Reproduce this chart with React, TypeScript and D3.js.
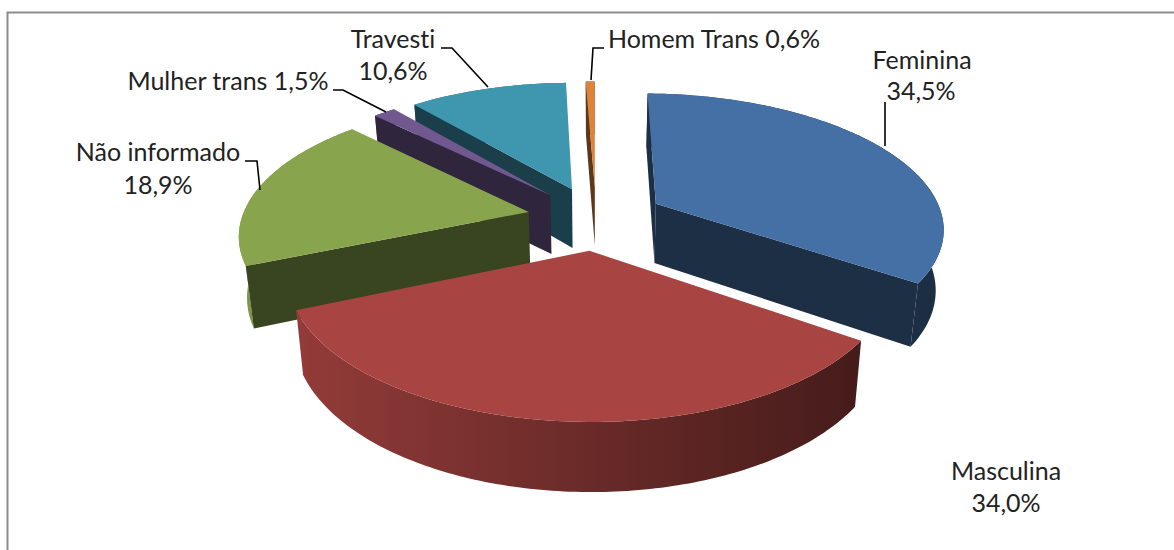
import { pie, line as d3line, range, rgb, scaleLinear } from "d3";

const categories = ["Feminina", "Masculina", "Não informado", "Mulher trans", "Travesti", "Homem Trans"];
const shares = [34.5, 34.0, 18.9, 1.5, 10.6, 0.6];
const topColors = ["#4470a5", "#a84441", "#88a54d", "#71588f", "#3f96af", "#db843d"];

// label layout, one entry per category
const labelLines = [
  [["Feminina", 922, 69], ["34,5%", 921, 100]],
  [["Masculina", 1006, 480], ["34,0%", 1006, 512]],
  [["Não informado", 158, 161], ["18,9%", 158, 194]],
  [["Mulher trans 1,5%", 228, 90]],
  [["Travesti", 393, 48], ["10,6%", 393, 80]],
  [["Homem Trans 0,6%", 714, 48]],
] as [string, number, number][][];
const leaders = [
  "M885,102V146",
  "",
  "M245,161H257L260,190",
  "M333,90H343L386,112",
  "M441,48H452L488,87",
  "M604,48H593L591,80",
];

const W = 1174;
const H = 550;
const cx = 596;
const cy = 218;
const perspective = 0.16;
const skew = 3;
const explode = 0.24;
const depth = 60;
const bottomShrink = 0.977;
const wallShade = 0.42;

const xScale = scaleLinear().domain([-1, 1]).range([cx - 287, cx + 287]);
const yScale = scaleLinear().domain([-1, 1]).range([cy - 132, cy + 132]);
const shade = scaleLinear().domain([240, 600, 860]).range([0.92, 0.62, 0.41]).clamp(true);

type Pt = [number, number];

// world coords: X right, Y towards the viewer, circle radius 1
function project(X: number, Y: number, low = false): Pt {
  const k = 1 / (1 - perspective * Y);
  const x = cx + (xScale(X) - cx) * k + skew * Y;
  const y = cy + (yScale(Y) - cy) * k;
  if (!low) return [x, y];
  return [cx + (x - cx) * bottomShrink, cy + (y - cy) * bottomShrink + depth * k];
}

function dim(color: string, f: number) {
  const c = rgb(color);
  return rgb(c.r * f, c.g * f, c.b * f).formatHex();
}

const line = d3line<Pt>();
const firstAngle = 0.012;
const arcs = pie<number>().sort(null).startAngle(firstAngle).endAngle(firstAngle + Math.PI * 2)(shares);

function sliceGeometry(index: number) {
  const a0 = arcs[index].startAngle;
  const a1 = arcs[index].endAngle;
  const mid = (a0 + a1) / 2;
  const ox = Math.sin(mid) * explode;
  const oy = -Math.cos(mid) * explode;
  const rim = (a: number, low = false) => project(ox + Math.sin(a), oy - Math.cos(a), low);
  const sweep = (from: number, to: number, low = false) => {
    const n = Math.max(2, Math.ceil((to - from) * 60));
    return range(n + 1).map((i) => rim(from + ((to - from) * i) / n, low));
  };
  const apex = project(ox, oy);
  const apexLow = project(ox, oy, true);
  const midRim = rim(mid);

  const top = line([apex, ...sweep(a0, a1)]) + "Z";

  // a radial wall shows when its hanging side points away from the top face
  const radial = (a: number) => {
    const b = rim(a);
    const ex = b[0] - apex[0];
    const ey = b[1] - apex[1];
    const side = ex * (midRim[1] - apex[1]) - ey * (midRim[0] - apex[0]);
    if (side * ex >= 0) return null;
    return line([apex, b, rim(a, true), apexLow]) + "Z";
  };

  const outer = line([...sweep(a0, a1), ...sweep(a0, a1, true).reverse()]) + "Z";

  return { top, outer, walls: [radial(a0), radial(a1)] };
}

const slices = categories.map((name, i) => ({ name, i, color: topColors[i], ...sliceGeometry(i) }));
const drawOrder = [5, 4, 3, 2, 0, 1];
const gradientStops = [240, 420, 600, 730, 860];

export default function App() {
  return (
    <svg
      width={W}
      height={H}
      viewBox={`0 0 ${W} ${H}`}
      style={{ position: "absolute", left: 0, top: 0, display: "block", background: "#fff", fontVariantLigatures: "none" }}
      fontFamily="Lato, 'Open Sans', sans-serif"
    >
      <defs>
        {slices.map((s) => (
          <linearGradient key={s.i} id={`wall-${s.i}`} gradientUnits="userSpaceOnUse" x1={240} x2={860} y1={0} y2={0}>
            {gradientStops.map((x) => (
              <stop key={x} offset={(x - 240) / 620} stopColor={dim(s.color, shade(x))} />
            ))}
          </linearGradient>
        ))}
      </defs>

      {/* frame: only top and left are in the crop */}
      <path d={`M7.5,${H}V12.5H${W}`} fill="none" stroke="#8c8c8c" strokeWidth={2} />

      {drawOrder.map((i) => {
        const s = slices[i];
        return (
          <g key={s.name}>
            <path d={s.outer} fill={`url(#wall-${s.i})`} />
            {s.walls.map((d, j) => d && <path key={j} d={d} fill={dim(s.color, wallShade)} />)}
            <path d={s.top} fill={s.color} />
          </g>
        );
      })}

      {leaders.map((d, i) => d && <path key={i} d={d} fill="none" stroke="#000" strokeWidth={1.6} />)}

      {labelLines.map((rows, i) =>
        rows.map(([text, x, y]) => (
          <text key={text} x={x} y={y} textAnchor="middle" fontSize={25} fill="#222">
            {text}
          </text>
        ))
      )}
    </svg>
  );
}
